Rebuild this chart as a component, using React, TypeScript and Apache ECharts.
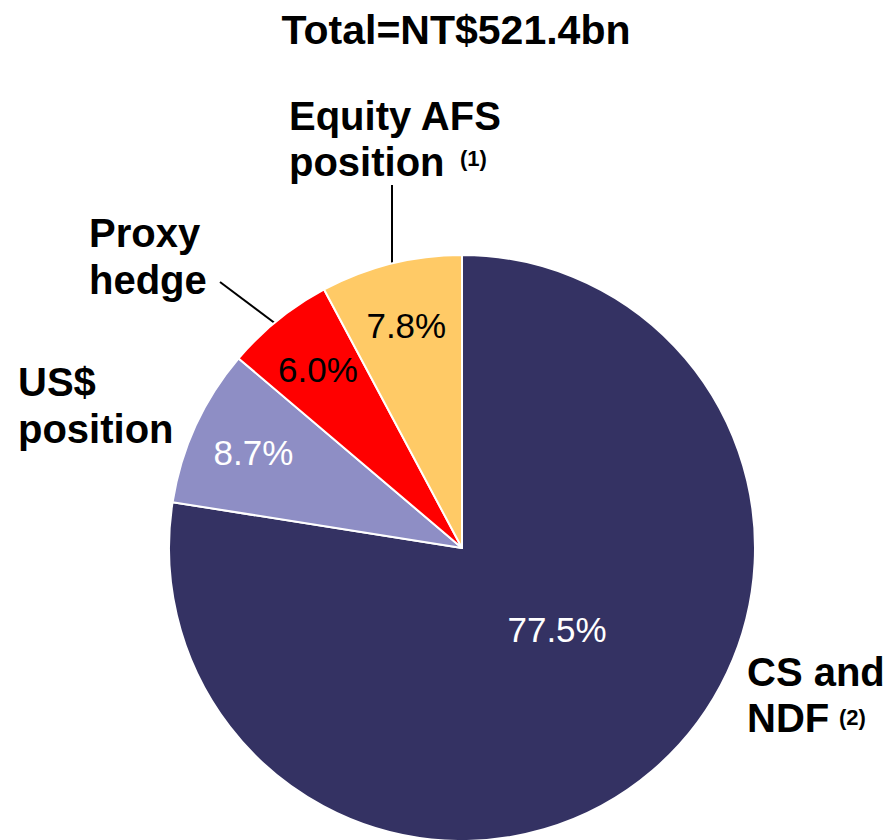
import React, { useEffect, useRef } from "react";
import * as echarts from "echarts";

const TITLE = "Total=NT$521.4bn";
const categories = ["CS and NDF", "US$ position", "Proxy hedge", "Equity AFS position"];
const shares = [77.5, 8.7, 6.0, 7.8];
const sliceColors = ["#343263", "#8E8EC5", "#FF0000", "#FFCA66"];
const pctLabelColors = ["#FFFFFF", "#FFFFFF", "#000000", "#000000"];
const outerLabels = ["CS and\nNDF", "US$\nposition", "Proxy\nhedge", "Equity AFS\nposition"];
const footnotes = ["(2)", "", "", "(1)"];

const FONT = "'Liberation Sans', Arial, Helvetica, sans-serif";

export default function App() {
  const ref = useRef<HTMLDivElement>(null);
  useEffect(() => {
    if (!ref.current) return;
    const chart = echarts.init(ref.current, null, { renderer: "svg" });
    const center = [462, 548];
    const R = 293;
    const pctLabel = (i: number) => ({
      show: true,
      position: "inside",
      formatter: (p: any) => p.value.toFixed(1) + "%",
      color: pctLabelColors[i],
      fontFamily: FONT,
      fontSize: 35,
      fontWeight: "normal",
    });

    const boldText = (text: string, x: number, y: number, lh: number) => ({
      type: "text",
      x,
      y,
      silent: true,
      style: {
        text,
        fill: "#000",
        font: `bold 40px ${FONT}`,
        lineHeight: lh,
        align: "left",
        verticalAlign: "middle",
      },
    });
    const supText = (text: string, x: number, y: number) => ({
      type: "text",
      x,
      y,
      silent: true,
      style: {
        text,
        fill: "#000",
        font: `bold 22px ${FONT}`,
        align: "left",
        verticalAlign: "middle",
      },
    });

    chart.setOption({
      animation: false,
      backgroundColor: "#FFFFFF",
      graphic: [
        {
          type: "text",
          x: 456,
          y: 30,
          silent: true,
          style: {
            text: TITLE,
            fill: "#000",
            font: `bold 41px ${FONT}`,
            align: "center",
            verticalAlign: "middle",
          },
        },
        boldText(outerLabels[3], 289, 139, 46),
        supText(footnotes[3], 460, 158),
        boldText(outerLabels[2], 89, 256, 47),
        boldText(outerLabels[1], 18, 405, 47),
        boldText(outerLabels[0], 747, 695, 46),
        supText(footnotes[0], 839, 717),
        {
          type: "line",
          silent: true,
          shape: { x1: 392, y1: 185, x2: 392, y2: 264 },
          style: { stroke: "#000", lineWidth: 2 },
        },
        {
          type: "line",
          silent: true,
          shape: { x1: 220, y1: 282, x2: 276, y2: 324 },
          style: { stroke: "#000", lineWidth: 2 },
        },
      ],
      series: [
        {
          type: "pie",
          center,
          radius: [0, R],
          startAngle: 90,
          clockwise: true,
          avoidLabelOverlap: false,
          silent: true,
          emphasis: { disabled: true },
          labelLine: { show: false },
          itemStyle: { borderColor: "#FFFFFF", borderWidth: 2 },
          data: categories.map((name, i) => ({
            name,
            value: shares[i],
            itemStyle: { color: sliceColors[i] },
            label: i === 0 ? { ...pctLabel(i), offset: [-2, -32] } : { show: false },
          })),
        },
        {
          type: "pie",
          center,
          radius: [160, R],
          startAngle: 90,
          clockwise: true,
          avoidLabelOverlap: false,
          silent: true,
          emphasis: { disabled: true },
          labelLine: { show: false },
          itemStyle: { color: "rgba(0,0,0,0)", borderWidth: 0 },
          data: categories.map((name, i) => ({
            name,
            value: shares[i],
            itemStyle: { color: "rgba(0,0,0,0)" },
            label: i === 0 ? { show: false } : pctLabel(i),
          })),
        },
      ],
    });
    return () => chart.dispose();
  }, []);
  return (
    <div
      ref={ref}
      style={{ position: "fixed", left: 0, top: 0, width: 888, height: 840 }}
    />
  );
}
